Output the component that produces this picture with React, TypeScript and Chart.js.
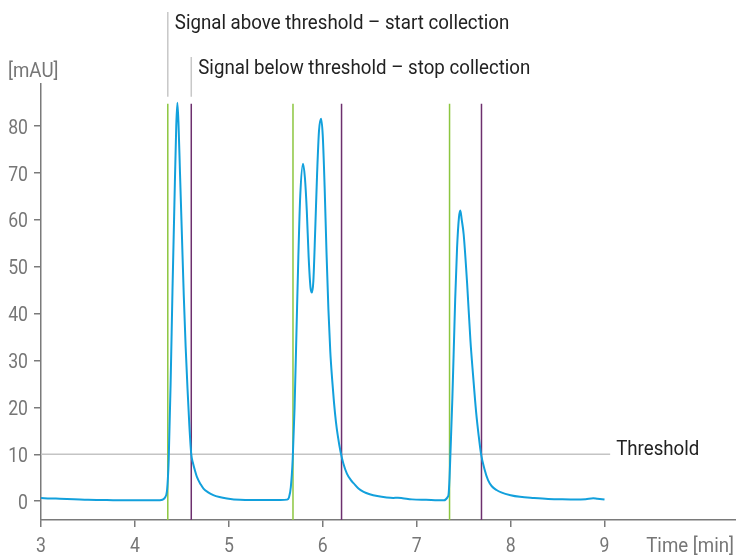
import React, { useEffect, useRef } from "react";
import { Chart, registerables } from "chart.js";

Chart.register(...registerables);

const FONT = "Roboto, 'Liberation Sans', sans-serif";

const xTicks = [3, 4, 5, 6, 7, 8, 9];
const yTicks = [0, 10, 20, 30, 40, 50, 60, 70, 80];

const timeMin = [
  3.0, 3.1, 3.2, 3.35, 3.5, 3.7, 3.9, 4.1, 4.25, 4.28, 4.3, 4.32, 4.34, 4.35, 4.36, 4.38, 4.4, 4.42, 4.44, 4.452,
  4.465, 4.48, 4.5, 4.52, 4.54, 4.56, 4.58, 4.6, 4.62, 4.64, 4.66, 4.7, 4.73, 4.78, 4.835, 4.9, 4.98, 5.12, 5.25,
  5.4, 5.55, 5.62, 5.64, 5.66, 5.68, 5.7, 5.72, 5.74, 5.76, 5.79, 5.81, 5.83, 5.85, 5.87, 5.885, 5.9, 5.92, 5.94,
  5.96, 5.982, 6.0, 6.02, 6.04, 6.06, 6.08, 6.1, 6.12, 6.14, 6.16, 6.19, 6.22, 6.257, 6.3, 6.33, 6.38, 6.435, 6.5,
  6.58, 6.68, 6.75, 6.8, 6.85, 6.95, 7.1, 7.29, 7.31, 7.33, 7.34, 7.35, 7.36, 7.38, 7.4, 7.41, 7.43, 7.45, 7.465,
  7.48, 7.5, 7.537, 7.572, 7.6, 7.633, 7.66, 7.686, 7.72, 7.76, 7.8, 7.85, 7.9, 8.0, 8.1, 8.25, 8.4, 8.55, 8.7,
  8.8, 8.88, 8.92, 9.0,
];
const signalMAU = [
  0.7, 0.6, 0.55, 0.45, 0.3, 0.25, 0.2, 0.2, 0.2, 0.25, 0.4, 0.8, 2, 4.5, 9, 25, 45, 63, 80, 85,
  80, 70, 57, 44, 33, 24, 16, 10, 8, 6.5, 5.2, 3.6, 2.7, 1.9, 1.3, 0.9, 0.6, 0.3, 0.25,
  0.25, 0.25, 0.35, 0.8, 3, 9, 20, 36, 52, 65, 72, 69, 62, 52, 45.5, 44.5, 47, 58, 70,
  79, 81.6, 78, 67, 53, 41, 32, 26, 21, 17, 14, 10.5, 8, 5.9, 4.5, 3.8, 2.7, 2.0, 1.5,
  1.1, 0.8, 0.7, 0.75, 0.65, 0.4, 0.3, 0.2, 0.4, 0.9, 1.5, 5, 10.5, 22, 36, 43, 54, 60.5, 62,
  60, 57, 46.5, 34.4, 27, 19, 14, 10, 7, 4.5, 3.2, 2.4, 1.9, 1.3, 0.95, 0.7, 0.5, 0.4, 0.35,
  0.45, 0.65, 0.55, 0.35,
];

const thresholdValue = 10;
const thresholdRange = [3, 9.06];
const startTimes = [4.35, 5.683, 7.35];
const stopTimes = [4.6, 6.2, 7.69];
const markerRange = [-4, 84.8];

const annotationTexts = {
  start: "Signal above threshold \u2013 start collection",
  stop: "Signal below threshold \u2013 stop collection",
  threshold: "Threshold",
  yTitle: "[mAU]",
  xTitle: "Time [min]",
};

const GREEN = "#8cc63f";
const PURPLE = "#6d2f6e";
const BLUE = "#12a0dc";
const GRAY_AXIS = "#7a7a7a";
const GRAY_TEXT = "#767676";
const DARK_TEXT = "#222222";
const SX_TEXT = 0.89;
const SX_DIGITS = 0.84;
const FSIZE = 21;

function drawText(
  ctx: any,
  text: string,
  x: number,
  y: number,
  align: "left" | "right" | "center",
  color: string,
  sx: number
) {
  ctx.save();
  ctx.font = `${FSIZE}px ${FONT}`;
  ctx.fillStyle = color;
  ctx.textBaseline = "alphabetic";
  ctx.textAlign = align;
  ctx.translate(x, y);
  ctx.scale(sx, 1);
  ctx.fillText(text, 0, 0);
  ctx.restore();
}

const annotationPlugin = {
  id: "annot",
  afterDraw(chart: any) {
    const ctx = chart.ctx;
    const xs = chart.scales.x;
    const ys = chart.scales.y;
    ctx.save();
    ctx.strokeStyle = "#c8c8c8";
    ctx.lineWidth = 1.5;
    const xa = xs.getPixelForValue(startTimes[0]);
    const xb = xs.getPixelForValue(stopTimes[0]);
    const bottom = ys.getPixelForValue(86.3);
    ctx.beginPath();
    ctx.moveTo(xa, 12);
    ctx.lineTo(xa, bottom);
    ctx.moveTo(xb, 57);
    ctx.lineTo(xb, bottom);
    ctx.stroke();
    ctx.restore();

    drawText(ctx, annotationTexts.start, xa + 7, 28.5, "left", DARK_TEXT, SX_TEXT);
    drawText(ctx, annotationTexts.stop, xb + 7, 73.5, "left", DARK_TEXT, SX_TEXT);
    const tx = xs.getPixelForValue(thresholdRange[1]) + 6;
    drawText(ctx, annotationTexts.threshold, tx, ys.getPixelForValue(thresholdValue) + 1, "left", DARK_TEXT, SX_TEXT);

    // tick labels from the scales' own ticks
    xs.ticks.forEach((t: any) => {
      drawText(ctx, String(t.value), xs.getPixelForValue(t.value), 552, "center", GRAY_TEXT, SX_DIGITS);
    });
    ys.ticks.forEach((t: any) => {
      drawText(ctx, String(t.value), 28, ys.getPixelForValue(t.value) + 7.5, "right", GRAY_TEXT, SX_DIGITS);
    });

    drawText(ctx, annotationTexts.yTitle, 8, 77, "left", GRAY_TEXT, SX_TEXT);
    drawText(ctx, annotationTexts.xTitle, 734, 551.5, "right", GRAY_TEXT, SX_TEXT);
  },
};

export default function App() {
  const ref = useRef<HTMLCanvasElement>(null);
  useEffect(() => {
    if (!ref.current) return;
    const trace = timeMin.map((t, i) => ({ x: t, y: signalMAU[i] }));
    const vline = (t: number, color: string) => ({
      data: [
        { x: t, y: markerRange[0] },
        { x: t, y: markerRange[1] },
      ],
      borderColor: color,
      borderWidth: 1.5,
      pointRadius: 0,
      tension: 0,
    });
    const chart = new Chart(ref.current, {
      type: "line",
      data: {
        datasets: [
          {
            data: trace,
            borderColor: BLUE,
            borderWidth: 2,
            pointRadius: 0,
            cubicInterpolationMode: "monotone",
          },
          ...startTimes.map((t) => vline(t, GREEN)),
          ...stopTimes.map((t) => vline(t, PURPLE)),
          {
            data: thresholdRange.map((t) => ({ x: t, y: thresholdValue })),
            borderColor: "#c4c4c4",
            borderWidth: 1.5,
            pointRadius: 0,
          },
        ] as any,
      },
      options: {
        animation: false,
        responsive: false,
        devicePixelRatio: 1,
        layout: { padding: { top: 84, left: 0, right: 0, bottom: 0 } },
        plugins: { legend: { display: false }, tooltip: { enabled: false } },
        scales: {
          x: {
            type: "linear",
            min: 3,
            max: 10.4,
            afterBuildTicks: (s: any) => {
              s.ticks = xTicks.map((v) => ({ value: v }));
            },
            afterFit: (s: any) => {
              s.height = 36;
            },
            grid: { drawOnChartArea: false, drawTicks: true, tickLength: 7, color: GRAY_AXIS, lineWidth: 1.5 },
            border: { display: true, color: GRAY_AXIS, width: 1.5 },
            ticks: { display: false },
          },
          y: {
            type: "linear",
            min: -4,
            max: 89,
            afterBuildTicks: (s: any) => {
              s.ticks = yTicks.map((v) => ({ value: v }));
            },
            afterFit: (s: any) => {
              s.width = 41;
            },
            grid: { drawOnChartArea: false, drawTicks: true, tickLength: 7, color: GRAY_AXIS, lineWidth: 1.5 },
            border: { display: true, color: GRAY_AXIS, width: 1.5 },
            ticks: { display: false },
          },
        },
      },
      plugins: [annotationPlugin],
    });
    return () => chart.destroy();
  }, []);
  return (
    <div style={{ position: "absolute", left: 0, top: 0, width: 736, height: 556 }}>
      <canvas ref={ref} width={736} height={556} />
    </div>
  );
}
